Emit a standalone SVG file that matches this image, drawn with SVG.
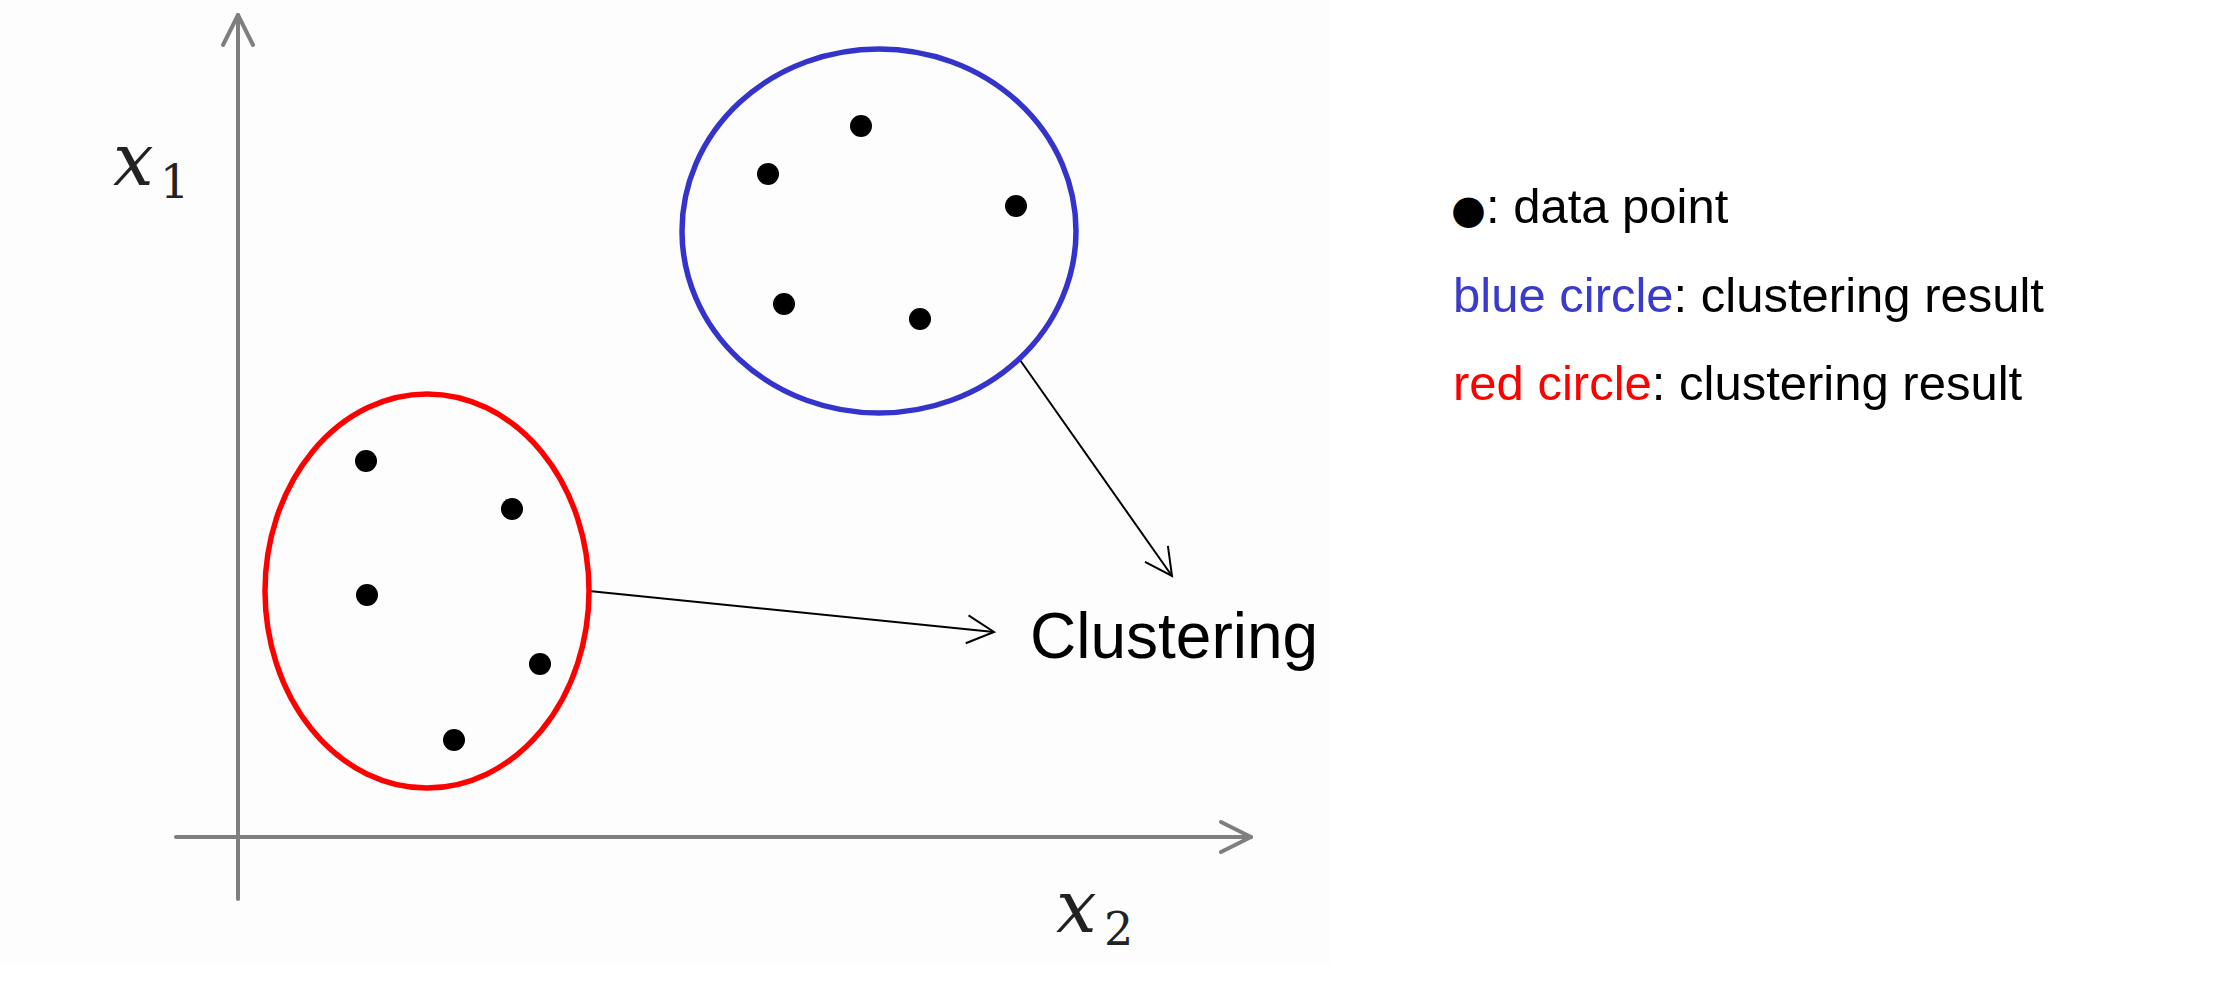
<svg xmlns="http://www.w3.org/2000/svg" width="2224" height="1000" viewBox="0 0 2224 1000">
<style>
.axis{stroke:#7f7f7f;stroke-width:4;fill:none;stroke-linecap:round}
.conn{stroke:#000;stroke-width:2;fill:none}
.dot{fill:#000}
.math{font-family:"DejaVu Serif","Liberation Serif",serif;fill:#222}
.sans{font-family:"Liberation Sans",Arial,"DejaVu Sans",sans-serif;fill:#000}
</style>
<defs>
<marker id="axhead" markerUnits="userSpaceOnUse" viewBox="-34 -20 40 40" refX="0" refY="0" markerWidth="40" markerHeight="40" orient="auto">
<path d="M-30,-15 L0,0 L-30,15" fill="none" stroke="#7f7f7f" stroke-width="4" stroke-linecap="round" stroke-linejoin="round"/>
</marker>
<marker id="open" markerUnits="userSpaceOnUse" viewBox="-30 -18 34 36" refX="0" refY="0" markerWidth="34" markerHeight="36" orient="auto">
<path d="M-27,-14 L0,0 L-27,14" fill="none" stroke="#000" stroke-width="2"/>
</marker>
</defs>
<rect x="0" y="0" width="2224" height="1000" fill="#fff"/>
<rect x="0" y="0" width="1330" height="965" fill="#fdfdfd"/>
<g id="axes">
<line class="axis" x1="238" y1="899" x2="238" y2="15" marker-end="url(#axhead)"/>
<line class="axis" x1="176" y1="837" x2="1251" y2="837" marker-end="url(#axhead)"/>
<text class="math" x="113" y="185" font-size="72" font-style="italic">x</text>
<text class="math" x="160" y="198" font-size="46">1</text>
<text class="math" x="1056" y="932" font-size="72" font-style="italic">x</text>
<text class="math" x="1104" y="945" font-size="46">2</text>
</g>
<g id="connectors">
<line class="conn" x1="1020" y1="360" x2="1172" y2="576" marker-end="url(#open)"/>
<line class="conn" x1="589" y1="591" x2="994" y2="632" marker-end="url(#open)"/>
</g>
<g id="blue-cluster">
<ellipse cx="879" cy="231" rx="197" ry="182" fill="none" stroke="#3434cc" stroke-width="5.5"/>
<circle class="dot" cx="861" cy="126" r="11"/>
<circle class="dot" cx="768" cy="174" r="11"/>
<circle class="dot" cx="1016" cy="206" r="11"/>
<circle class="dot" cx="784" cy="304" r="11"/>
<circle class="dot" cx="920" cy="319" r="11"/>
</g>
<g id="red-cluster">
<ellipse cx="427" cy="591" rx="162" ry="197" fill="none" stroke="#ff0000" stroke-width="5.5"/>
<circle class="dot" cx="366" cy="461" r="11"/>
<circle class="dot" cx="512" cy="509" r="11"/>
<circle class="dot" cx="367" cy="595" r="11"/>
<circle class="dot" cx="540" cy="664" r="11"/>
<circle class="dot" cx="454" cy="740" r="11"/>
</g>
<g id="clustering">
<text class="sans" x="1030" y="658" font-size="64">Clustering</text>
</g>
<g id="legend">
<text class="sans" x="1451" y="223" font-size="49"><tspan font-family="DejaVu Sans, sans-serif" font-size="40">●</tspan>: data point</text>
<text class="sans" x="1453" y="312" font-size="49"><tspan fill="#3a3acc">blue circle</tspan>: clustering result</text>
<text class="sans" x="1453" y="400" font-size="49"><tspan fill="#ff0000">red circle</tspan>: clustering result</text>
</g>
</svg>
